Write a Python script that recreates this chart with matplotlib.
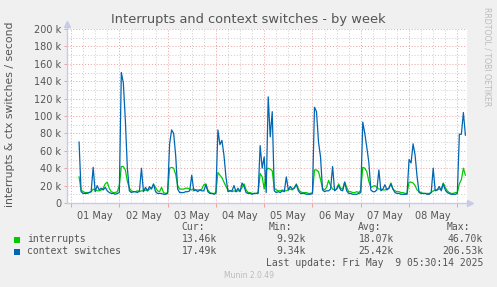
import numpy as np
import matplotlib
matplotlib.use("Agg")
import matplotlib.pyplot as plt

# hourly samples, hour 0 = 01 May 00:00
start_hour = 4
interrupts = [
    30, 15, 13, 12, 12, 12, 13, 16, 15, 14, 14, 15, 17, 22, 24, 17, 13, 12, 12, 13,
    20, 42, 42, 38, 25, 17, 14, 13, 13, 14, 13, 14, 14, 15, 14, 16, 17, 21, 18, 14, 13, 18, 12, 11,
    12, 40, 41, 40, 33, 20, 16, 16, 16, 17, 17, 16, 15, 16, 15, 15, 15, 16, 21, 22, 15, 12, 11, 11,
    12, 35, 32, 29, 24, 19, 15, 14, 13, 14, 13, 14, 14, 18, 22, 15, 12, 12, 11, 11, 11, 12, 34, 30,
    16, 38, 40, 39, 37, 17, 15, 14, 14, 15, 14, 14, 15, 16, 15, 18, 22, 16, 13, 12, 12, 12, 11, 11,
    12, 38, 38, 36, 27, 17, 15, 18, 26, 20, 16, 15, 16, 22, 17, 16, 24, 18, 13, 13, 12, 12, 13, 12,
    15, 41, 40, 36, 25, 18, 19, 20, 18, 16, 16, 15, 15, 16, 17, 23, 16, 14, 13, 13, 12, 12, 11, 11,
    24, 24, 23, 20, 15, 13, 12, 11, 11, 11, 11, 12, 14, 15, 15, 16, 16, 23, 18, 14, 12, 11, 11, 12,
    12, 22, 27, 40, 32,
]
context_switches = [
    70, 13, 11, 11, 11, 12, 13, 41, 13, 20, 15, 17, 15, 18, 14, 12, 11, 11, 10, 11,
    12, 150, 138, 95, 40, 14, 12, 13, 13, 12, 14, 40, 13, 18, 14, 19, 16, 22, 13, 11, 11, 11, 10, 10,
    11, 68, 84, 80, 55, 16, 12, 12, 12, 13, 13, 14, 32, 14, 15, 13, 15, 14, 14, 21, 13, 11, 11, 10,
    11, 84, 67, 72, 55, 30, 13, 14, 14, 20, 13, 17, 13, 23, 19, 12, 11, 11, 10, 11, 11, 11, 66, 40,
    53, 12, 122, 76, 105, 14, 12, 13, 12, 14, 13, 30, 15, 19, 16, 17, 21, 14, 11, 11, 11, 10, 10, 10,
    11, 110, 105, 70, 53, 15, 13, 14, 14, 16, 42, 14, 16, 20, 15, 14, 24, 14, 11, 11, 10, 10, 10, 11,
    12, 93, 80, 64, 47, 15, 13, 13, 15, 38, 14, 16, 21, 15, 17, 22, 16, 12, 11, 11, 10, 10, 10, 10,
    50, 46, 68, 55, 30, 12, 11, 11, 11, 10, 10, 12, 40, 14, 15, 19, 14, 22, 15, 12, 11, 10, 10, 10,
    11, 79, 79, 104, 78,
]
day_labels = ["01 May", "02 May", "03 May", "04 May", "05 May", "06 May", "07 May", "08 May"]
y_ticks = [0, 20, 40, 60, 80, 100, 120, 140, 160, 180, 200]
y_tick_labels = ["0"] + ["%d k" % v for v in y_ticks[1:]]

legend_names = ["interrupts", "context switches"]
legend_colors = ["#00cc00", "#0066b3"]
stat_cur = ["13.46k", "17.49k"]
stat_min = ["9.92k", "9.34k"]
stat_avg = ["18.07k", "25.42k"]
stat_max = ["46.70k", "206.53k"]

W, H = 497, 287
fig = plt.figure(figsize=(W / 100, H / 100), dpi=100, facecolor="#f0f0f0")

def fx(x):
    return x / W

def fy(y):
    return 1 - y / H

left, right, top, bottom = 67, 467, 29, 203
ax = fig.add_axes([fx(left), fy(bottom), (right - left) / W, (bottom - top) / H])
ax.set_facecolor("white")

hours = np.arange(start_hour, start_hour + len(context_switches))
x0, x1 = -2, 196.8
ax.set_xlim(x0, x1)
ax.set_ylim(0, 200)

# grid
red = "#eba0a0"
grey = "#cccccc"
dots = (0, (1, 2))
for h in range(0, 200, 6):
    if h > x1:
        break
    ax.axvline(h, color=red if h % 24 == 0 else grey, lw=0.7, ls=dots, zorder=1)
for v in range(10, 201, 10):
    ax.axhline(v, color=red if v % 20 == 0 else grey, lw=0.7, ls=dots, zorder=1)

ax.plot(hours, interrupts, color=legend_colors[0], lw=0.9, zorder=3)
ax.plot(hours, context_switches, color=legend_colors[1], lw=0.9, zorder=4)

for s in ax.spines.values():
    s.set_visible(False)
axis_col = "#c8cbe8"
ax.plot([x0, 198.5], [0, 0], color=axis_col, lw=1, clip_on=False, zorder=5)
ax.plot([x0, x0], [0, 206], color=axis_col, lw=1, clip_on=False, zorder=5)
ax.plot([198.5], [0], marker=">", color=axis_col, ms=4, clip_on=False, zorder=5)
ax.plot([x0], [206], marker="^", color=axis_col, ms=4, clip_on=False, zorder=5)

ax.set_yticks(y_ticks)
ax.set_yticklabels(y_tick_labels)
ax.set_xticks([24 * i for i in range(9)])
ax.set_xticklabels([])
ax.set_xticks([24 * i + 12 for i in range(8)], day_labels, minor=True)
ax.tick_params(axis="x", which="major", length=3, color=red, width=0.7)
ax.tick_params(axis="x", which="minor", length=0, pad=6, labelsize=7, labelcolor="#555555")
ax.tick_params(axis="y", length=2, color=red, width=0.7, pad=2, labelsize=7, labelcolor="#555555")

txt = "#555555"
fig.text(0.5, fy(20), "Interrupts and context switches - by week", ha="center", va="center",
         fontsize=9.4, color=txt)
fig.text(fx(10), fy(114), "interrupts & ctx switches / second", rotation=90, ha="center",
         va="center", fontsize=7.8, color=txt)
fig.text(fx(487), fy(57), "RRDTOOL / TOBI OETIKER", rotation=270, ha="center", va="center",
         fontsize=5.6, color="#bbbbbb")

mono = "DejaVu Sans Mono"
hdr_y = 227
for lab, x in zip(["Cur:", "Min:", "Avg:", "Max:"], [181, 269, 358, 447]):
    fig.text(fx(x), fy(hdr_y), lab, ha="left", va="center", fontsize=7, family=mono, color=txt)
rows_y = [239.5, 251.5]
for i in range(2):
    y = rows_y[i]
    fig.patches.append(plt.Rectangle((fx(14), fy(y + 3)), 6 / W, 6 / H, transform=fig.transFigure,
                                     facecolor=legend_colors[i], edgecolor="none"))
    fig.text(fx(27), fy(y), legend_names[i], ha="left", va="center", fontsize=7, family=mono, color=txt)
    for val, x in zip([stat_cur[i], stat_min[i], stat_avg[i], stat_max[i]], [217, 306, 394, 483]):
        fig.text(fx(x), fy(y), val, ha="right", va="center", fontsize=7, family=mono, color=txt)
fig.text(fx(483), fy(263.5), "Last update: Fri May  9 05:30:14 2025", ha="right", va="center",
         fontsize=7, family=mono, color=txt)
fig.text(0.5, fy(276), "Munin 2.0.49", ha="center", va="center", fontsize=5.5, color="#bbbbbb")

fig.savefig("out.png", dpi=100, facecolor=fig.get_facecolor())
